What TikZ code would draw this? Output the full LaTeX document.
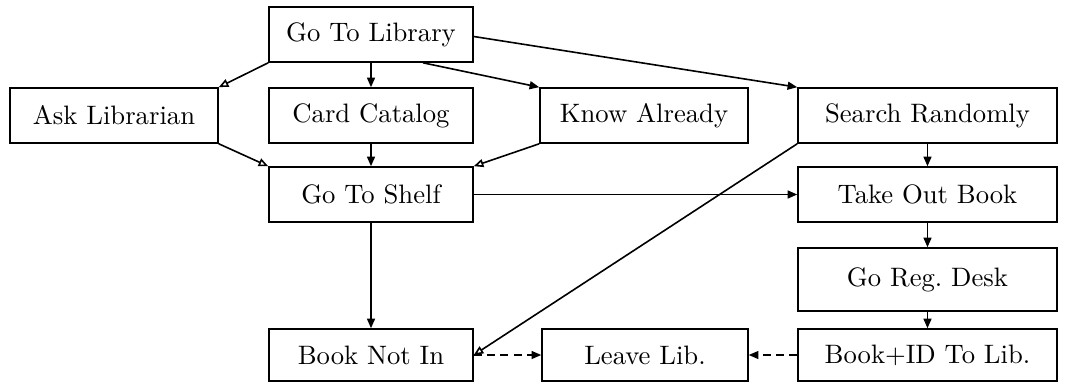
\documentclass[tikz,border=0pt]{standalone}
\usetikzlibrary{arrows.meta}
\begin{document}
\begin{tikzpicture}[x=0.375pt,y=-0.375pt,
  box/.style={draw,line width=0.6pt,inner sep=0pt,font=\normalsize},
  con/.style={line width=0.6pt,-{Triangle[length=3.6pt,width=3pt]}},
  ocon/.style={line width=0.6pt,-{Triangle[open,length=3.6pt,width=3pt]}},
  dcon/.style={line width=0.4pt,densely dashed,-{Triangle[length=3.6pt,width=3pt]}}]
\useasboundingbox (0,0) rectangle (1080,383);
\node[box,minimum width=204*0.375pt,minimum height=55*0.375pt] (lib) at (371,34.5) {Go To Library};
\node[box,minimum width=208*0.375pt,minimum height=55*0.375pt] (ask) at (114,115.5) {Ask Librarian};
\node[box,minimum width=204*0.375pt,minimum height=55*0.375pt] (card) at (371,115.5) {Card Catalog};
\node[box,minimum width=208*0.375pt,minimum height=55*0.375pt] (know) at (644,115.5) {Know Already};
\node[box,minimum width=259*0.375pt,minimum height=55*0.375pt] (search) at (927.5,115.5) {Search Randomly};
\node[box,minimum width=204*0.375pt,minimum height=55*0.375pt] (shelf) at (371,194.5) {Go To Shelf};
\node[box,minimum width=259*0.375pt,minimum height=55*0.375pt] (take) at (927.5,194.5) {Take Out Book};
\node[box,minimum width=259*0.375pt,minimum height=63*0.375pt] (desk) at (927.5,279.5) {Go Reg.\ Desk};
\node[box,minimum width=259*0.375pt,minimum height=52*0.375pt] (bookid) at (927.5,355) {Book+ID To Lib.};
\node[box,minimum width=204*0.375pt,minimum height=52*0.375pt] (notin) at (371,355) {Book Not In};
\node[box,minimum width=206*0.375pt,minimum height=52*0.375pt] (leave) at (645,355) {Leave Lib.};
% connectors
\draw[ocon] (lib.south west) -- (ask.north east);
\draw[con] (lib.south) -- (card.north);
\draw[con] ([xshift=52*0.375pt]lib.south) -- (know.north west);
\draw[con] ([yshift=-2*0.375pt]lib.east) -- (search.north west);
\draw[ocon] (ask.south east) -- (shelf.north west);
\draw[con] (card.south) -- (shelf.north);
\draw[ocon] (know.south west) -- (shelf.north east);
\draw[con] (search.south) -- (take.north);
\draw[ocon] (search.south west) -- (notin.east);
\draw[con] (shelf.east) -- (take.west);
\draw[con] (shelf.south) -- (notin.north);
\draw[con] (take.south) -- (desk.north);
\draw[con] (desk.south) -- (bookid.north);
\draw[dcon] (notin.east) -- (leave.west);
\draw[dcon] (bookid.west) -- (leave.east);
\end{tikzpicture}
\end{document}
